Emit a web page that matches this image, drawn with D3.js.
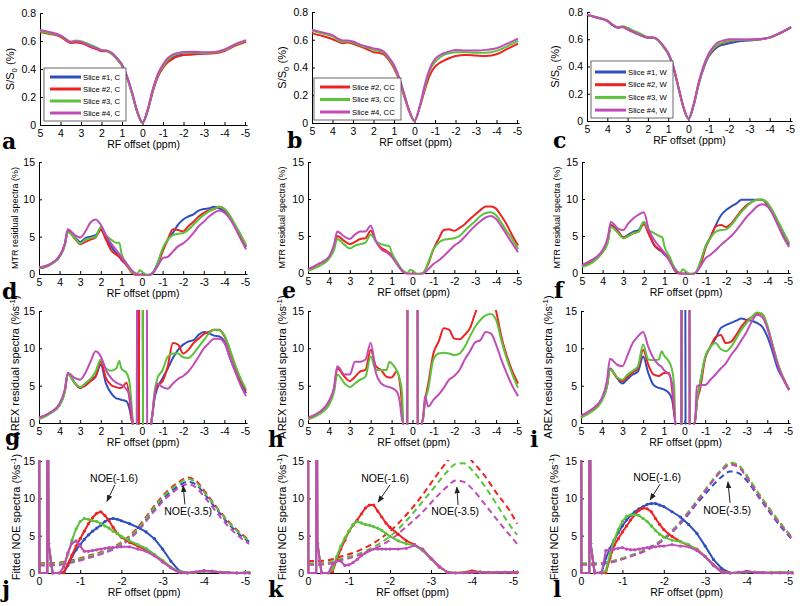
<!DOCTYPE html>
<html><head><meta charset="utf-8">
<script src="https://cdn.jsdelivr.net/npm/d3@7"></script>
<style>
body{margin:0;background:#fff;}
svg{display:block;}
text{font-family:"Liberation Sans",Arial,sans-serif;fill:#000;}
</style></head><body>
<svg id="c" width="800" height="606"></svg>
<script>
// ---------- shared ticks / labels ----------
const zTicksY = [0,0.2,0.4,0.6,0.8];
const resTicksY = [0,5,10,15];
const ppmTicks = [5,4,3,2,1,0,-1,-2,-3,-4,-5];
const noeTicks = [0,-1,-2,-3,-4,-5];
const legendA = ["Slice #1, C","Slice #2, C","Slice #3, C","Slice #4, C"];
const legendB = ["Slice #2, CC","Slice #3, CC","Slice #4, CC"];
const legendC = ["Slice #1, W","Slice #2, W","Slice #3, W","Slice #4, W"];

// ---------- row 1: Z-spectra ----------
const zX = [5,4.5,4,3.75,3.5,3.25,3,2.75,2.5,2.25,2,1.75,1.5,1.25,1,0.75,0.5,0.25,0,-0.25,-0.5,-0.75,-1,-1.25,-1.5,-1.75,-2,-2.5,-3,-3.5,-4,-4.5,-5.05];
const aBlue = [0.672,0.657,0.636,0.612,0.59,0.594,0.59,0.575,0.558,0.547,0.53,0.53,0.512,0.476,0.428,0.342,0.222,0.09,0.015,0.1,0.24,0.348,0.416,0.458,0.485,0.497,0.502,0.505,0.51,0.516,0.533,0.57,0.6];
const aRed = [0.665,0.65,0.63,0.606,0.586,0.59,0.586,0.572,0.555,0.543,0.527,0.527,0.508,0.472,0.424,0.338,0.22,0.09,0.015,0.102,0.242,0.345,0.41,0.45,0.475,0.49,0.5,0.505,0.51,0.513,0.528,0.565,0.595];
const aGreen = [0.67,0.655,0.636,0.615,0.594,0.603,0.598,0.586,0.57,0.555,0.536,0.53,0.508,0.47,0.42,0.335,0.218,0.088,0.015,0.105,0.248,0.356,0.42,0.468,0.496,0.51,0.516,0.518,0.515,0.518,0.535,0.572,0.602];
const aMagenta = [0.678,0.663,0.64,0.615,0.594,0.598,0.593,0.578,0.561,0.549,0.533,0.533,0.515,0.48,0.432,0.348,0.23,0.098,0.018,0.11,0.256,0.366,0.432,0.48,0.505,0.515,0.522,0.524,0.52,0.522,0.54,0.576,0.606];
const bRed = [0.648,0.627,0.604,0.588,0.575,0.58,0.57,0.557,0.544,0.528,0.51,0.507,0.495,0.454,0.394,0.31,0.19,0.08,0.015,0.11,0.237,0.345,0.406,0.435,0.454,0.47,0.483,0.49,0.486,0.483,0.495,0.532,0.572];
const bGreen = [0.665,0.645,0.624,0.6,0.585,0.588,0.58,0.566,0.551,0.54,0.527,0.52,0.507,0.465,0.406,0.32,0.2,0.085,0.015,0.114,0.256,0.38,0.44,0.474,0.495,0.505,0.51,0.51,0.507,0.507,0.52,0.551,0.592];
const bMagenta = [0.672,0.653,0.633,0.61,0.595,0.595,0.587,0.572,0.558,0.548,0.537,0.532,0.515,0.474,0.418,0.33,0.21,0.088,0.016,0.118,0.273,0.394,0.46,0.49,0.507,0.518,0.527,0.522,0.522,0.527,0.539,0.57,0.608];
const cBlue = [0.778,0.758,0.734,0.705,0.686,0.689,0.672,0.655,0.638,0.623,0.611,0.611,0.594,0.549,0.495,0.398,0.248,0.1,0.016,0.112,0.27,0.39,0.475,0.52,0.55,0.562,0.57,0.585,0.59,0.598,0.612,0.644,0.688];
const cRed = [0.779,0.759,0.735,0.706,0.686,0.689,0.673,0.656,0.639,0.624,0.612,0.612,0.595,0.55,0.496,0.399,0.249,0.102,0.016,0.115,0.274,0.397,0.482,0.53,0.56,0.575,0.585,0.594,0.596,0.6,0.612,0.644,0.688];
const cGreen = [0.779,0.76,0.737,0.71,0.69,0.695,0.685,0.665,0.65,0.632,0.616,0.612,0.592,0.545,0.49,0.395,0.246,0.1,0.016,0.116,0.276,0.4,0.486,0.535,0.565,0.578,0.588,0.595,0.596,0.6,0.613,0.645,0.69];
const cMagenta = [0.78,0.76,0.736,0.707,0.687,0.69,0.674,0.657,0.64,0.625,0.613,0.613,0.597,0.553,0.499,0.402,0.252,0.105,0.018,0.12,0.282,0.408,0.495,0.55,0.58,0.592,0.6,0.6,0.598,0.601,0.614,0.646,0.691];

// ---------- row 2: MTR residual spectra ----------
const resX = [5,4.5,4,3.75,3.6,3.25,3,2.75,2.5,2.25,2,1.75,1.5,1.25,1.1,1,0.75,0.5,0.25,0.1,0,-0.25,-0.5,-0.75,-1,-1.25,-1.5,-1.75,-2,-2.25,-2.5,-2.75,-3,-3.25,-3.5,-3.75,-4,-4.25,-4.5,-4.75,-5.05];
const dBlue = [0.76,1.2,2.4,3.9,5.8,4.9,4.3,4.8,5.0,5.2,6.0,5.0,3.7,2.8,2.3,1.9,1.2,0.3,-0.2,-0.1,-0.1,-0.2,0.1,1.4,3.2,4.6,5.5,6.6,7.3,7.7,8.0,8.5,8.7,8.8,9.0,8.8,8.4,7.5,6.4,5.2,3.6];
const dRed = [0.76,1.2,2.4,3.9,5.7,4.7,4.0,4.3,4.6,4.9,5.9,4.6,3.2,2.6,2.3,2.0,1.2,0.2,-0.2,-0.1,-0.1,-0.2,0.0,1.2,3.0,4.6,6.0,5.9,5.7,6.4,7.0,7.7,8.2,8.5,8.7,9.0,8.7,7.8,6.6,5.4,3.8];
const dGreen = [0.8,1.2,2.3,3.8,5.6,4.8,4.1,4.6,4.8,5.0,6.3,5.2,4.6,4.2,4.2,2.8,1.4,0.3,0.0,0.5,0.3,-0.1,0.0,1.4,3.4,4.6,5.2,5.4,5.5,5.9,6.6,7.3,7.9,8.4,8.7,9.0,8.7,7.9,6.7,5.5,3.9];
const dMagenta = [0.9,1.3,2.4,4.1,6.0,5.2,4.9,5.7,6.9,7.3,6.6,5.2,4.1,3.2,2.7,2.3,1.4,0.5,0.0,-0.1,-0.1,-0.2,0.1,1.0,2.1,2.3,3.0,3.7,4.1,4.7,5.5,6.4,7.0,7.7,8.2,8.5,8.2,7.5,6.3,4.9,3.3];
const eRed = [0.45,1.2,2.1,3.4,5.0,4.3,3.9,4.2,4.6,4.7,5.7,4.3,3.4,3.0,2.7,2.4,1.4,0.3,-0.1,-0.1,-0.1,-0.2,0.0,1.2,3.2,4.6,5.8,5.9,5.7,6.1,6.6,7.3,7.9,8.5,9.0,9.0,8.7,7.7,6.6,5.2,3.7];
const eGreen = [0.3,0.9,1.9,3.2,4.6,3.8,3.3,3.7,3.9,4.1,5.2,4.3,3.9,3.7,3.6,2.8,1.5,0.45,0.0,0.45,0.3,-0.1,0.0,1.4,3.2,4.1,4.5,4.6,4.7,5.0,5.7,6.4,7.0,7.7,8.1,8.2,7.8,6.8,5.7,4.7,3.2];
const eMagenta = [0.5,1.2,2.2,3.9,5.6,4.9,4.6,5.2,5.6,5.6,6.4,4.3,3.2,2.8,2.5,2.2,1.2,0.3,-0.1,-0.1,-0.1,-0.2,-0.1,0.5,1.2,1.7,2.3,3.0,3.7,4.2,4.9,5.7,6.4,7.0,7.5,7.7,7.3,6.3,5.2,4.1,2.8];
const fBlue = [0.9,1.6,2.9,4.3,6.5,5.6,4.8,5.2,5.6,5.8,6.9,5.4,3.8,3.1,2.8,2.5,1.8,0.4,-0.1,-0.1,-0.1,-0.2,0.0,1.3,3.6,4.9,6.5,7.8,8.5,9.0,9.4,9.9,9.9,9.9,9.9,9.9,9.2,8.1,6.7,5.4,3.8];
const fRed = [0.9,1.6,2.9,4.3,6.4,5.6,4.8,5.0,5.4,5.6,6.6,5.2,3.8,3.2,2.9,2.7,1.8,0.4,-0.1,-0.1,-0.1,-0.2,0.0,1.1,3.4,4.9,6.3,6.5,6.2,6.7,7.6,8.5,9.2,9.6,9.9,9.9,9.4,8.3,6.9,5.6,4.0];
const fGreen = [0.8,1.4,2.8,4.1,6.2,5.4,4.7,5.0,5.4,5.6,6.9,5.8,5.4,5.0,4.8,3.6,2.2,0.7,0.0,0.5,0.3,-0.1,0.0,1.6,3.6,4.8,5.6,5.8,5.9,6.5,7.4,8.3,9.0,9.6,9.9,9.9,9.5,8.4,7.1,5.7,4.1];
const fMagenta = [1.1,1.8,3.1,4.8,6.9,6.0,5.8,6.7,7.4,7.9,8.2,5.8,4.5,3.6,3.1,2.7,1.6,0.45,0.0,-0.1,-0.1,-0.2,0.0,0.9,2.0,2.5,3.1,3.8,4.4,5.0,5.8,6.7,7.6,8.3,9.0,9.3,9.0,8.0,6.5,5.0,3.5];

// ---------- row 3: AREX residual spectra ----------
const arexX = [5,4.5,4,3.75,3.6,3.25,3,2.75,2.5,2.25,2,1.75,1.5,1.25,1.1,1,0.75,0.6,0.5,0.45,0.4,0.3,0.2,0.1,0,-0.1,-0.2,-0.3,-0.4,-0.45,-0.5,-0.6,-0.75,-1,-1.25,-1.5,-1.75,-2,-2.25,-2.5,-2.75,-3,-3.25,-3.5,-3.75,-4,-4.25,-4.5,-4.75,-5.05];
const gBlue = [0.7,1.3,2.4,4.2,6.7,5.3,4.7,5.3,5.8,6.3,7.8,5.3,4.0,3.3,3.2,3.1,2.9,1.8,0.4,0,-5,-30,-60,60,60,-60,-40,-20,-5,0,1.0,3.1,4.7,6.0,7.3,8.7,9.8,10.5,10.9,11.1,11.8,12.2,12.0,11.7,11.6,10.9,8.9,7.1,5.6,4.0];
const gRed = [0.7,1.3,2.4,4.2,6.6,5.3,4.7,5.0,5.6,6.2,8.2,6.0,5.1,4.8,4.7,4.7,5.4,3.1,0.4,0,-5,-30,-60,60,60,-60,-40,-20,-5,0,1.0,3.5,5.0,5.6,7.6,10.7,10.5,9.3,9.8,10.7,11.3,11.9,12.2,12.5,12.5,11.6,9.8,7.8,6.0,4.3];
const gGreen = [0.5,1.2,2.3,4.1,6.5,5.3,4.8,5.3,5.9,6.9,8.5,7.3,7.0,7.3,8.3,7.3,6.7,5.3,2.2,0,-5,-60,60,60,60,-60,-40,-20,-5,0,1.0,4.0,6.0,7.1,8.9,9.3,9.3,8.8,8.7,9.3,10.2,11.1,12.0,12.5,12.4,11.8,10.0,8.0,6.2,4.5];
const gMagenta = [0.7,1.3,2.6,4.5,6.7,6.0,5.8,6.7,8.2,9.6,8.9,7.1,6.0,5.4,5.2,5.1,4.5,3.6,1.3,0,-5,-60,60,60,60,60,60,-60,-5,0,1.0,3.5,5.3,4.8,4.6,5.3,5.9,6.3,6.9,7.8,8.9,10.0,10.7,11.3,11.3,10.7,8.9,7.1,5.3,3.6];
const hRed = [0.7,1.3,2.9,4.7,7.3,6.2,5.6,6.2,6.9,7.1,9.8,7.6,7.1,6.2,6.1,6.1,6.9,5.3,2.2,0,-5,-60,60,60,60,60,60,-60,-5,0,0.5,3.0,5.2,9.3,10.9,12.7,12.5,11.3,11.2,11.8,12.7,14.7,16.5,17.5,17.5,15.0,11.6,9.1,7.1,5.3];
const hGreen = [0.45,1.1,2.4,4.2,6.5,5.3,4.8,5.3,5.8,6.2,8.9,7.1,7.1,7.1,8.2,8.0,7.0,5.8,4.0,0,-5,-60,60,60,60,60,60,-60,-5,0,0.5,2.8,4.5,8.5,9.3,9.4,9.3,9.1,9.3,10.2,11.6,12.9,13.8,14.4,14.6,13.8,11.1,8.7,6.7,4.7];
const hMagenta = [0.7,1.4,2.9,4.8,7.6,6.5,6.5,8.2,8.2,8.5,10.7,6.7,5.3,4.9,4.8,4.7,4.2,2.7,0.4,0,-5,-60,60,60,60,60,60,-60,-5,0,0.5,3.6,2.2,3.1,3.8,4.7,5.8,6.3,7.1,8.5,9.6,10.8,11.1,12.2,12.0,10.5,8.5,6.7,5.1,3.6];
const iBlue = [0.8,1.6,3.1,4.9,7.3,6.0,5.3,5.9,6.5,6.9,8.9,6.7,5.1,4.7,4.6,4.5,4.0,3.1,1.3,0,-5,-30,-60,60,60,-60,-40,-20,-5,0,0.0,3.0,5.3,8.7,10.2,11.3,12.7,13.1,13.4,13.7,14.0,13.8,13.7,13.4,12.9,11.6,9.6,7.3,6.0,4.5];
const iRed = [0.8,1.6,3.1,4.9,7.2,6.0,5.6,6.2,6.8,7.3,9.8,7.8,6.5,6.3,6.5,6.7,6.7,4.5,1.3,0,-5,-30,-60,60,60,60,60,-60,-5,0,0.0,2.8,4.5,8.7,10.2,11.5,11.8,10.7,10.9,11.8,12.9,13.7,14.2,14.7,14.6,12.9,10.5,8.0,6.2,4.5];
const iGreen = [0.7,1.5,2.9,4.8,7.2,6.1,5.8,6.5,7.0,7.6,10.5,8.5,8.4,8.5,9.6,9.1,8.2,7.1,4.9,0,-5,-30,-60,60,60,60,60,-60,-5,0,0.0,3.0,5.3,8.9,10.2,10.7,9.9,9.6,10.2,11.3,12.5,13.4,14.2,14.8,14.6,13.1,10.5,8.0,6.1,4.4];
const iMagenta = [1.0,1.8,3.3,5.6,8.6,7.8,7.6,9.1,10.7,11.6,12.2,10.2,8.7,7.8,7.5,7.1,6.5,5.3,2.2,0,-5,-30,-60,60,60,60,60,-60,-5,0,0.0,4.9,5.1,5.1,5.8,6.5,7.3,8.0,9.1,10.0,11.1,12.2,13.6,14.5,14.2,12.7,10.2,7.8,6.0,4.4];

// ---------- row 4: fitted NOE spectra ----------
const noeX = [0,-0.01,-0.2,-0.21,-0.23,-0.33,-0.5,-0.6,-0.7,-0.8,-0.9,-1.0,-1.1,-1.2,-1.3,-1.4,-1.5,-1.6,-1.7,-1.8,-1.9,-2.0,-2.2,-2.4,-2.6,-2.8,-3.0,-3.2,-3.4,-3.6,-3.8,-4.0,-4.2,-4.4,-4.6,-4.8,-5.0,-5.1];
const jBlue = [40,0,0,40,4,0, 0,0,1.0,2.2,3.1,3.8,4.5,5.1,5.6,6.0,6.4,6.9,7.2,7.3,7.2,7.0, 6.6,6.1,5.5,4.6,3.2,1.6,0.3,0,0.1,0.3,0.25,0.1,0.05,0,0, 0];
const jRed = [40,0,0,40,4,0, 0,0.1,1.2,2.4,3.6,4.6,5.6,6.6,7.4,8.0,8.2,7.7,7.0,6.1,5.3,4.8, 4.1,3.6,3.1,2.4,1.5,0.7,0.1,0,0.1,0.3,0.2,0.1,0.05,0,0, 0];
const jGreen = [40,0,0,40,4,0, 0,0.8,2.5,4.4,5.9,6.9,7.3,7.2,7.0,6.9,6.6,6.3,6.0,5.6,5.3,4.9, 4.3,3.8,3.3,2.5,1.7,0.8,0.2,0,0.1,0.2,0.2,0.1,0.05,0,0.1, 0.1];
const jMagenta = [40,0,0,40,4,0, 0,0.8,2.7,4.0,4.3,3.6,2.9,2.9,3.0,3.1,3.2,3.3,3.4,3.4,3.5,3.5, 3.5,3.2,2.9,2.3,1.5,0.7,0.1,0,0.15,0.3,0.2,0.1,0.05,0,0, 0];
const kRed = [40,0,0,40,4,0, 0,0.2,1.8,3.2,4.4,5.6,6.4,7.1,7.9,8.7,9.1,9.1,8.3,7.5,6.7,6.1, 5.2,4.3,3.8,3.0,1.9,0.8,0.1,0,0.1,0.3,0.15,0.1,0.05,0.1,0.05, 0];
const kGreen = [40,0,0,40,4,0, 0,0.5,2.2,3.6,4.7,5.6,6.5,6.9,6.7,6.5,6.4,6.2,6.0,5.7,5.3,4.9, 4.3,3.9,3.7,3.0,1.9,0.9,0.1,0,0.05,0.1,0.1,0.05,0.1,0.1,0.1, 0.15];
const kMagenta = [40,0,0,40,4,0, 0,1.2,1.6,1.6,1.0,1.1,1.4,1.8,2.3,2.7,3.0,3.2,3.2,3.2,3.2,3.2, 3.2,3.3,3.7,3.2,2.0,0.9,0.1,0,0,0.1,0.1,0.05,0.1,0.1,0.1, 0.1];
const lBlue = [40,0,0,40,4,0, 0.1,2.0,3.3,4.4,5.4,6.3,7.1,7.7,8.2,8.6,8.9,9.2,9.3,9.3,9.1,8.9, 8.2,7.5,6.5,5.3,3.6,1.8,0.6,0,0.05,0.2,0.1,0.05,0,0.1,0, 0];
const lRed = [40,0,0,40,4,0, 0,0,2.0,3.7,4.6,5.5,6.3,7.1,7.8,8.4,8.7,8.6,8.2,7.3,6.5,5.8, 4.9,4.2,3.7,3.2,2.2,1.1,0.2,0,0.05,0.2,0.1,0.05,0,0,0, 0];
const lGreen = [40,0,0,40,4,0, 0,0.3,2.5,4.4,5.8,6.9,7.6,7.8,7.8,7.7,7.3,6.9,6.3,5.7,5.2,4.8, 4.4,4.2,3.8,3.1,2.2,1.0,0.1,0,0.05,0.1,0.1,0.05,0.1,0.1,0.1, 0.1];
const lMagenta = [40,0,0,40,4,0, 0,3.0,3.1,3.2,3.3,3.4,3.2,3.1,3.1,3.2,3.3,3.4,3.5,3.5,3.6,3.6, 3.8,3.6,3.5,3.0,2.2,1.0,0.1,0,0.1,0.2,0.1,0.05,0,0,0, 0];
const dashX = [0,-0.4,-0.8,-1.2,-1.6,-2.0,-2.4,-2.8,-3.1,-3.4,-3.6,-3.8,-4.0,-4.3,-4.6,-4.9,-5.1];
const jBlueFit = [1.1,1.15,1.5,2.1,2.8,3.9,5.8,8.6,10.4,11.7,12.2,11.9,10.7,8.6,6.6,5.0,4.2];
const jRedFit = [1.3,1.35,1.7,2.3,3.0,4.1,6.1,9.0,10.9,12.2,12.8,12.4,11.1,8.9,6.9,5.3,4.4];
const jGreenFit = [1.2,1.25,1.6,2.2,2.9,4.0,5.9,8.8,10.7,12.0,12.6,12.2,10.9,8.8,6.8,5.2,4.3];
const jMagentaFit = [1.0,1.05,1.4,2.0,2.7,3.7,5.6,8.3,10.1,11.4,11.9,11.5,10.3,8.2,6.2,4.7,3.9];
const kRedFit = [1.6,1.65,2.2,2.9,4.0,5.6,7.8,10.5,12.8,15.0,16.2,16.3,15.0,13.1,10.7,8.5,6.6];
const kGreenFit = [1.3,1.35,1.9,2.5,3.5,4.9,7.0,9.6,11.6,13.6,14.6,14.7,13.8,11.7,9.2,6.6,5.1];
const kMagentaFit = [1.1,1.15,1.7,2.3,3.2,4.4,6.2,8.2,10.0,11.6,12.4,12.2,11.3,9.3,7.2,5.2,3.9];
const lBlueFit = [1.2,1.25,1.6,2.3,3.1,4.5,6.6,9.3,11.2,12.9,13.6,13.4,12.4,10.1,7.8,5.7,4.5];
const lRedFit = [1.2,1.25,1.6,2.3,3.2,4.6,6.8,9.6,11.8,13.8,14.7,14.4,13.0,10.5,8.2,6.0,4.7];
const lGreenFit = [1.3,1.3,1.65,2.35,3.25,4.65,6.9,9.7,11.9,13.9,14.8,14.5,13.1,10.6,8.3,6.1,4.8];
const lMagentaFit = [1.1,1.15,1.5,2.2,3.1,4.5,6.7,9.5,11.7,13.7,14.5,14.2,12.8,10.3,8.0,5.9,4.6];
// annotations in data coordinates: text position, arrow tail, arrow head
const jNotes = [{t:"NOE(-1.6)",x:-1.82,y:12.2,x1:-1.84,y1:11.8,x2:-1.65,y2:9.6},{t:"NOE(-3.5)",x:-3.62,y:7.8,x1:-3.54,y1:9.2,x2:-3.5,y2:11.7}];
const kNotes = [{t:"NOE(-1.6)",x:-1.88,y:12.2,x1:-2.0,y1:11.8,x2:-1.71,y2:9.5},{t:"NOE(-3.5)",x:-3.59,y:7.8,x1:-3.66,y1:9.1,x2:-3.63,y2:11.5}];
const lNotes = [{t:"NOE(-1.6)",x:-1.84,y:12.3,x1:-1.91,y1:11.9,x2:-1.67,y2:9.8},{t:"NOE(-3.5)",x:-3.53,y:7.9,x1:-3.6,y1:9.4,x2:-3.55,y2:12.2}];

const COL = {blue:"#2f4fc0", red:"#ee2222", green:"#5cc23c", magenta:"#c04cb8"};

const R1 = {dom:[5,-5.1], ydom:[0,0.8], yt:zTicksY, xt:ppmTicks, lab:"z", labSize:11};
const R2 = {dom:[5,-5.1], ydom:[0,15], yt:resTicksY, xt:ppmTicks, lab:"mtr", labSize:9};
const R3 = {dom:[5,-5.1], ydom:[0,15], yt:resTicksY, xt:ppmTicks, lab:"arex", labSize:11};
const R4 = {dom:[0,-5.1], ydom:[0,15], yt:resTicksY, xt:noeTicks, lab:"noe", labSize:11};

const panels = [
 {...R1, id:"a", L:40, R5:245, top:13, bottom:125, labX:10, letter:[2,149], xs:zX,
  series:[[aBlue,"blue"],[aRed,"red"],[aGreen,"green"],[aMagenta,"magenta"]],
  legend:{x:44,y:68,w:82,h:53,first:9,step:12,lx1:6,lx2:37,tx:39,labels:legendA,colors:["blue","red","green","magenta"]}},
 {...R1, id:"b", L:312, R5:517, top:12, bottom:123, labX:282, letter:[287,148], xs:zX,
  series:[[bRed,"red"],[bGreen,"green"],[bMagenta,"magenta"]],
  legend:{x:314,y:78,w:87,h:42,first:9,step:12.5,lx1:6,lx2:36,tx:38,labels:legendB,colors:["red","green","magenta"]}},
 {...R1, id:"c", L:587, R5:790, top:12, bottom:121, labX:555, letter:[553,148], xs:zX,
  series:[[cBlue,"blue"],[cRed,"red"],[cGreen,"green"],[cMagenta,"magenta"]],
  legend:{x:591,y:61,w:82,h:57,first:11,step:12.7,lx1:4,lx2:35,tx:37,labels:legendC,colors:["blue","red","green","magenta"]}},
 {...R2, id:"d", L:39, R5:245, top:162, bottom:274, labX:15, letter:[2,299], xs:resX,
  series:[[dBlue,"blue"],[dRed,"red"],[dGreen,"green"],[dMagenta,"magenta"]]},
 {...R2, id:"e", L:308, R5:517, top:162, bottom:273, labX:282, letter:[282,298], xs:resX,
  series:[[eRed,"red"],[eGreen,"green"],[eMagenta,"magenta"]]},
 {...R2, id:"f", L:582, R5:788, top:162, bottom:273, labX:557, letter:[554,298], xs:resX,
  series:[[fBlue,"blue"],[fRed,"red"],[fGreen,"green"],[fMagenta,"magenta"]]},
 {...R3, id:"g", L:39, R5:245, top:311, bottom:423, labX:15, letter:[5,445], xs:arexX,
  series:[[gBlue,"blue"],[gRed,"red"],[gGreen,"green"],[gMagenta,"magenta"]]},
 {...R3, id:"h", L:308, R5:517, top:311, bottom:423, labX:282, letter:[268,447], xs:arexX,
  series:[[hRed,"red"],[hGreen,"green"],[hMagenta,"magenta"]]},
 {...R3, id:"i", L:581, R5:788, top:311, bottom:423, labX:548, letter:[530,447], xs:arexX,
  series:[[iBlue,"blue"],[iRed,"red"],[iGreen,"green"],[iMagenta,"magenta"]]},
 {...R4, id:"j", L:39, R5:245, top:461, bottom:573, labX:16, letter:[2,597], xs:noeX, fx:dashX, notes:jNotes,
  series:[[jBlue,"blue"],[jRed,"red"],[jGreen,"green"],[jMagenta,"magenta"]],
  fits:[[jBlueFit,"blue"],[jRedFit,"red"],[jGreenFit,"green"],[jMagentaFit,"magenta"]]},
 {...R4, id:"k", L:308, R5:513, top:461, bottom:573, labX:282, letter:[268,597], xs:noeX, fx:dashX, notes:kNotes,
  series:[[kRed,"red"],[kGreen,"green"],[kMagenta,"magenta"]],
  fits:[[kRedFit,"red"],[kGreenFit,"green"],[kMagentaFit,"magenta"]]},
 {...R4, id:"l", L:581, R5:788, top:461, bottom:573, labX:554, letter:[553,597], xs:noeX, fx:dashX, notes:lNotes,
  series:[[lBlue,"blue"],[lRed,"red"],[lGreen,"green"],[lMagenta,"magenta"]],
  fits:[[lBlueFit,"blue"],[lRedFit,"red"],[lGreenFit,"green"],[lMagentaFit,"magenta"]]}
];

const svg = d3.select("#c");
const defs = svg.append("defs");
defs.append("marker").attr("id","ah").attr("viewBox","0 0 10 10").attr("refX",9).attr("refY",5)
  .attr("markerWidth",7).attr("markerHeight",7).attr("orient","auto")
  .append("path").attr("d","M0,1 L10,5 L0,9 z").attr("fill","#222");

function fmtY(d){ return d===0 ? "0" : (Number.isInteger(d) ? String(d) : d.toFixed(1)); }

panels.forEach(p => {
  const unit = (p.R5 - p.L) / (p.dom[0] + 5);
  const xEnd = p.L + unit * (p.dom[0] - p.dom[1]);
  const x = d3.scaleLinear().domain(p.dom).range([p.L, xEnd]);
  const y = d3.scaleLinear().domain(p.ydom).range([p.bottom, p.top]);
  const g = svg.append("g");

  // axes
  const ax = g.append("g").attr("transform",`translate(0,${p.bottom})`)
    .call(d3.axisBottom(x).tickValues(p.xt).tickSizeInner(-3).tickSizeOuter(0).tickPadding(5).tickFormat(d=>String(d)));
  const ay = g.append("g").attr("transform",`translate(${p.L},0)`)
    .call(d3.axisLeft(y).tickValues(p.yt).tickSizeInner(-3).tickSizeOuter(0).tickPadding(4).tickFormat(fmtY));
  [ax,ay].forEach(a => {
    a.attr("font-family",'"Liberation Sans",Arial,sans-serif').attr("font-size",10.5);
    a.selectAll("path,line").attr("stroke","#000").attr("stroke-width",1);
    a.selectAll("text").attr("fill","#000");
  });

  // clip
  const cid = "clip-"+p.id;
  defs.append("clipPath").attr("id",cid).append("rect")
    .attr("x",p.L-1.5).attr("y",p.top-1).attr("width",xEnd-p.L+5).attr("height",p.bottom-p.top+2.5);
  const plot = g.append("g").attr("clip-path",`url(#${cid})`);

  // dashed fits (row 4)
  if (p.fits) {
    const lf = d3.line().x(d=>x(d[0])).y(d=>y(d[1])).curve(d3.curveMonotoneX);
    p.fits.forEach(([vals,c]) => {
      plot.append("path").datum(p.fx.map((xv,i)=>[xv,vals[i]]))
        .attr("d",lf).attr("fill","none").attr("stroke",COL[c]).attr("stroke-width",2)
        .attr("stroke-dasharray","6,4");
    });
  }
  // series
  const isNoe = !!p.fits;
  const ln = d3.line().x(d=>x(d[0])).y(d=>y(d[1])).curve(isNoe ? d3.curveLinear : d3.curveMonotoneX);
  p.series.forEach(([vals,c]) => {
    const pts = p.xs.map((xv,i)=>[xv,vals[i]]);
    plot.append("path").datum(pts).attr("d",ln).attr("fill","none")
      .attr("stroke",COL[c]).attr("stroke-width",2).attr("stroke-linejoin","round");
    if (isNoe) {
      plot.selectAll(null).data(pts.filter((d,i)=>i>=4)).enter().append("circle")
        .attr("cx",d=>x(d[0])).attr("cy",d=>y(d[1])).attr("r",1.6).attr("fill",COL[c]);
    }
  });

  // legend
  if (p.legend) {
    const L = p.legend;
    const lg = g.append("g").attr("transform",`translate(${L.x},${L.y})`);
    lg.append("rect").attr("width",L.w).attr("height",L.h).attr("fill","#fff").attr("stroke","#444").attr("stroke-width",0.8);
    L.labels.forEach((t,i) => {
      const yy = L.first + i*L.step;
      lg.append("line").attr("x1",L.lx1).attr("x2",L.lx2).attr("y1",yy).attr("y2",yy)
        .attr("stroke",COL[L.colors[i]]).attr("stroke-width",3);
      lg.append("text").attr("x",L.tx).attr("y",yy).attr("dy","0.35em").attr("font-size",7.7).text(t);
    });
  }

  // annotations
  if (p.notes) {
    p.notes.forEach(n => {
      g.append("line").attr("x1",x(n.x1)).attr("y1",y(n.y1)).attr("x2",x(n.x2)).attr("y2",y(n.y2))
        .attr("stroke","#222").attr("stroke-width",1).attr("marker-end","url(#ah)");
      g.append("text").attr("x",x(n.x)).attr("y",y(n.y)).attr("text-anchor","middle").attr("font-size",10.5).text(n.t);
    });
  }

  // x label
  g.append("text").attr("x",(p.L+xEnd)/2).attr("y",p.bottom+23).attr("text-anchor","middle")
    .attr("font-size",10.5).text("RF offset (ppm)");

  // y label
  const t = g.append("text")
    .attr("transform",`translate(${p.labX + p.labSize*0.35},${(p.top+p.bottom)/2}) rotate(-90)`)
    .attr("text-anchor","middle").attr("font-size",p.labSize);
  if (p.lab==="z") {
    t.append("tspan").text("S/S");
    t.append("tspan").attr("dy",3).attr("font-size",p.labSize*0.72).text("0");
    t.append("tspan").attr("dy",-3).text(" (%)");
  } else if (p.lab==="mtr") {
    t.text("MTR residual spectra (%)");
  } else {
    t.append("tspan").text(p.lab==="arex" ? "AREX residual spectra (%s" : "Fitted NOE spectra (%s");
    t.append("tspan").attr("dy",-4).attr("font-size",p.labSize*0.72).text("-1");
    t.append("tspan").attr("dy",4).text(")");
  }

  // panel letter
  g.append("text").attr("x",p.letter[0]).attr("y",p.letter[1])
    .style("font-family",'"DejaVu Serif","Liberation Serif",serif').attr("font-weight","bold")
    .attr("font-size",22).text(p.id);
});
</script>
</body></html>
